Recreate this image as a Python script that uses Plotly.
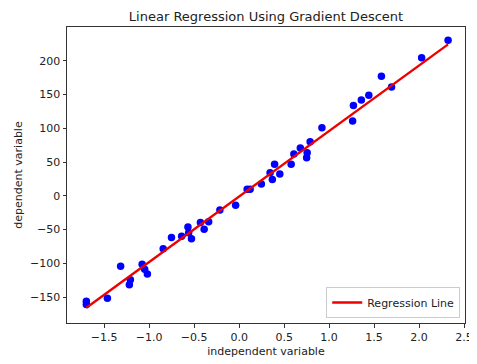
import plotly.graph_objects as go

x_values = [-1.698, -1.698, -1.464, -1.317, -1.209, -1.220, -1.078, -1.050, -1.020, -0.844,
            -0.752, -0.639, -0.569, -0.561, -0.530, -0.430, -0.389, -0.339, -0.214, -0.039,
            0.089, 0.122, 0.247, 0.344, 0.369, 0.394, 0.452, 0.578, 0.608, 0.680,
            0.756, 0.750, 0.789, 0.920, 1.261, 1.270, 1.358, 1.441, 1.581, 1.694,
            2.028, 2.322]
y_values = [-156, -161, -151.6, -104.3, -124.2, -131.6, -101.3, -108.7, -115.8, -78.4,
            -61.7, -59.9, -46.1, -54.7, -63.6, -39.5, -49.5, -38.5, -21.1, -13.8,
            9.6, 9.6, 17.7, 34.0, 24.1, 46.9, 32.2, 46.6, 62.1, 70.7,
            63.9, 56.5, 80.2, 100.9, 110.9, 133.6, 142.0, 149.1, 177.2, 161.2,
            204.5, 230.3]

slope = 97.0
intercept = -1.0

x_ticks = [-1.5, -1.0, -0.5, 0.0, 0.5, 1.0, 1.5, 2.0, 2.5]
y_ticks = [-150, -100, -50, 0, 50, 100, 150, 200]

line_x = [min(x_values), max(x_values)]
line_y = [slope * v + intercept for v in line_x]

fig = go.Figure()
fig.add_trace(go.Scatter(x=x_values, y=y_values, mode="markers",
                         marker=dict(color="#0000ff", size=7.5),
                         showlegend=False))
fig.add_trace(go.Scatter(x=line_x, y=line_y, mode="lines",
                         line=dict(color="#ee0000", width=2.4),
                         name="Regression Line"))

axis_common = dict(showgrid=False, zeroline=False, showline=True, linecolor="#333333",
                   linewidth=1, mirror=True, ticks="outside", ticklen=3.5,
                   tickcolor="#333333", tickfont=dict(size=11, color="#222222"),
                   automargin=False, ticklabeloverflow="allow")

# page body has an 8px default margin, so the figure is offset by 8px
fig.update_layout(
    width=469, height=356,
    margin=dict(l=59, r=12, t=19, b=41),
    paper_bgcolor="white", plot_bgcolor="white",
    font=dict(family="DejaVu Sans", color="#222222"),
    title=dict(text="Linear Regression Using Gradient Descent", x=0.5, xref="paper",
               y=1 - 8 / 356, yref="container", yanchor="middle",
               font=dict(size=13, color="#222222")),
    xaxis=dict(range=[-1.913, 2.51], tickvals=x_ticks,
               ticktext=[("−" + f"{abs(v):.1f}") if v < 0 else f"{v:.1f}" for v in x_ticks],
               title=dict(text="independent variable", font=dict(size=11), standoff=4),
               **axis_common),
    yaxis=dict(range=[-188.3, 250], tickvals=y_ticks,
               ticktext=[("−" + str(abs(v))) if v < 0 else str(v) for v in y_ticks],
               title=dict(text="dependent variable", font=dict(size=11), standoff=5),
               **axis_common),
    legend=dict(x=0.988, y=0.017, xanchor="right", yanchor="bottom",
                bordercolor="#cccccc", borderwidth=1, bgcolor="rgba(255,255,255,0.8)",
                font=dict(size=11)),
)

fig.write_html("out.html")
